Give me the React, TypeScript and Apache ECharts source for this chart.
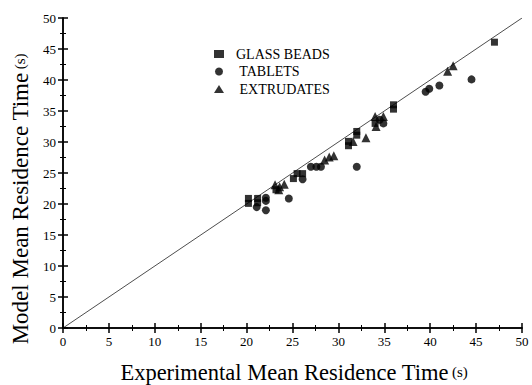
import React, { useEffect, useRef } from "react";
import * as echarts from "echarts";

const glassBeads: [number, number][] = [
  [20.2, 20.9], [20.2, 20.1], [21.2, 20.9], [21.2, 20.2], [23.2, 22.3],
  [25.1, 24.1], [25.5, 24.9], [26.1, 24.9], [31.1, 29.4], [31.1, 30.1],
  [32.0, 31.7], [32.0, 31.1], [34.0, 33.0], [36.0, 35.3], [36.0, 36.0], [47.0, 46.1],
];
const tablets: [number, number][] = [
  [21.1, 19.5], [22.1, 19.0], [22.1, 20.5], [22.1, 21.0], [24.6, 20.9], [26.1, 24.0],
  [27.0, 26.0], [27.6, 26.0], [28.1, 26.0], [32.0, 26.0], [34.9, 33.0], [34.5, 33.6],
  [39.5, 38.1], [39.9, 38.6], [41.0, 39.1], [44.5, 40.1],
];
const extrudates: [number, number][] = [
  [23.1, 23.1], [23.6, 22.8], [24.1, 23.2], [23.5, 22.3], [28.5, 27.1], [29.0, 27.6],
  [29.5, 27.8], [31.6, 30.1], [33.0, 30.7], [34.0, 34.1], [34.1, 32.5], [34.9, 34.1],
  [41.9, 41.4], [42.5, 42.3],
];
const parityLine: [number, number][] = [[0, 0], [50, 50]];
const seriesNames = ["GLASS BEADS", "TABLETS", "EXTRUDATES"];
const xTitle = "Experimental Mean Residence Time";
const yTitle = "Model Mean Residence Time";
const unit = "(s)";

const FONT = "Liberation Serif";

export default function App() {
  const ref = useRef<HTMLDivElement>(null);
  useEffect(() => {
    if (!ref.current) return;
    const chart = echarts.init(ref.current, undefined, { renderer: "svg" });
    const baseAxis = {
      min: 0,
      max: 50,
      interval: 5,
      axisLine: { show: true, lineStyle: { color: "#000", width: 1.5 } },
      axisTick: { show: true, inside: true, length: 5, lineStyle: { color: "#000", width: 1.5 } },
      minorTick: { show: true, splitNumber: 2, length: 3, lineStyle: { color: "#000", width: 1 } },
      splitLine: { show: false },
    };
    const titleRich = (big: number, small: number) => ({
      t: { fontFamily: FONT, fontSize: big, fill: "#000", lineHeight: big },
      u: { fontFamily: FONT, fontSize: small, fill: "#000", lineHeight: big },
    });
    chart.setOption({
      animation: false,
      backgroundColor: "#fff",
      grid: { left: 63, right: 10, top: 18, bottom: 57, containLabel: false },
      legend: {
        data: seriesNames,
        orient: "vertical",
        left: 214,
        top: 47,
        padding: 0,
        itemGap: 3.5,
        itemWidth: 10,
        itemHeight: 8,
        formatter: (name: string) => (name === seriesNames[0] ? "  " : "   ") + name,
        textStyle: { fontFamily: FONT, fontSize: 14, color: "#000" },
      },
      graphic: [
        {
          type: "text",
          x: 294,
          y: 372,
          style: {
            text: `{t|${xTitle}} {u|${unit}}`,
            align: "center",
            verticalAlign: "middle",
            rich: titleRich(22.5, 15),
          },
        },
        {
          type: "text",
          x: 20,
          y: 199,
          rotation: Math.PI / 2,
          style: {
            text: `{t|${yTitle}} {u|${unit}}`,
            align: "center",
            verticalAlign: "middle",
            rich: titleRich(23, 15),
          },
        },
      ],
      xAxis: [
        {
          ...baseAxis,
          type: "value",
          position: "bottom",
          axisLabel: { fontFamily: FONT, fontSize: 13, color: "#000", margin: 7 },
        },
        { ...baseAxis, type: "value", position: "top", axisLabel: { show: false } },
      ],
      yAxis: [
        {
          ...baseAxis,
          type: "value",
          position: "left",
          axisLabel: { fontFamily: FONT, fontSize: 13, color: "#000", margin: 7 },
        },
        { ...baseAxis, type: "value", position: "right", axisLabel: { show: false } },
      ],
      series: [
        {
          type: "line",
          data: parityLine,
          symbol: "none",
          lineStyle: { color: "#000", width: 0.7 },
          silent: true,
          z: 1,
        },
        {
          name: seriesNames[0],
          type: "scatter",
          data: glassBeads,
          symbol: "rect",
          symbolSize: 7,
          itemStyle: { color: "#000" },
          z: 3,
        },
        {
          name: seriesNames[1],
          type: "scatter",
          data: tablets,
          symbol: "circle",
          symbolSize: 8,
          itemStyle: { color: "#000" },
          z: 3,
        },
        {
          name: seriesNames[2],
          type: "scatter",
          data: extrudates,
          symbol: "triangle",
          symbolSize: 9,
          itemStyle: { color: "#000" },
          z: 3,
        },
      ],
    });
    return () => chart.dispose();
  }, []);
  return <div ref={ref} style={{ width: 532, height: 385, position: "absolute", left: 0, top: 0 }} />;
}
